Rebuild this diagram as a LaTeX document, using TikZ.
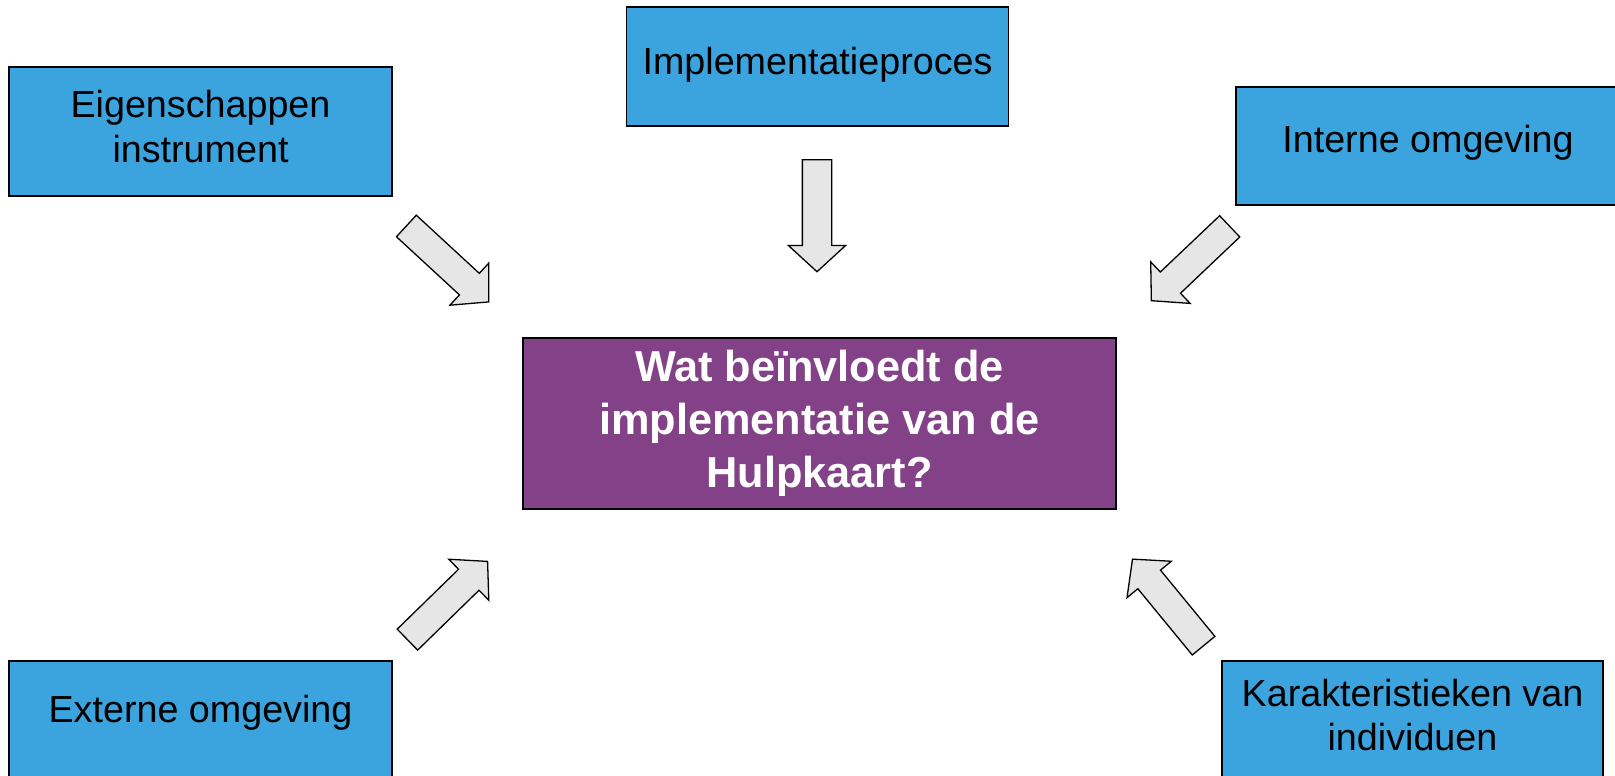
\documentclass[tikz,border=0pt]{standalone}
\usepackage{fontspec}
\setmainfont{Liberation Sans}
\usetikzlibrary{shapes.arrows}
\definecolor{boxblue}{HTML}{3BA3DD}
\definecolor{boxpurple}{HTML}{834187}
\definecolor{arrowgray}{HTML}{E6E6E6}
\tikzset{
  bluebox/.style={draw=black, line width=1.3pt, fill=boxblue, inner sep=0pt, align=center,
    font=\fontsize{37.7pt}{44.3pt}\selectfont, text=black},
  bluetext/.style={inner sep=0pt, align=center, font=\fontsize{37.7pt}{44.3pt}\selectfont, text=black},
  centerbox/.style={draw=black, line width=1.3pt, fill=boxpurple, inner sep=0pt, align=center,
    font=\fontsize{43.3pt}{53pt}\selectfont\bfseries, text=white},
  blockarrow/.style={single arrow, draw=black, line width=1.3pt, fill=arrowgray,
    minimum height=112pt, minimum width=56pt, inner xsep=0pt, inner ysep=14pt,
    single arrow head extend=14pt, single arrow tip angle=95, single arrow head indent=0pt}
}
\begin{document}
\begin{tikzpicture}[x=1pt,y=-1pt]
\useasboundingbox (0,0) rectangle (1615,776);
\clip (0,0) rectangle (1615,776);
% boxes
\node[bluebox, minimum width=383pt, minimum height=129pt] (eig) at (200.5,131.5) {};
\node[bluetext] (eigtxt) at (200.5,126.5) {Eigenschappen\\instrument};
\node[bluebox, minimum width=382pt, minimum height=119pt] (impl) at (817.5,66.5) {};
\node[bluetext] (impltxt) at (817.5,64.5) {Implementatieproces};
\node[bluebox, minimum width=390pt, minimum height=118pt] (int) at (1431,146) {};
\node[bluetext] (inttxt) at (1428,143) {Interne omgeving};
\node[centerbox, minimum width=593pt, minimum height=171pt] (wat) at (819.5,423.5) {Wat beïnvloedt de\\implementatie van de\\Hulpkaart?};
\node[bluebox, minimum width=383pt, minimum height=140pt] (ext) at (200.5,731) {};
\node[bluetext] (exttxt) at (200.5,713) {Externe omgeving};
\node[bluebox, minimum width=381pt, minimum height=140pt] (kar) at (1412.5,731) {};
\node[bluetext] (kartxt) at (1412.5,715) {Karakteristieken van\\individuen};
% block arrows
\node[blockarrow, rotate=-42.7] (a1) at (442.6,259.4) {};
\node[blockarrow, rotate=-90] (a2) at (817,209) {};
\node[blockarrow, rotate=-136.5, minimum height=108pt] (a3) at (1195.4,258.9) {};
\node[blockarrow, rotate=44.3] (a4) at (442.7,605.2) {};
\node[blockarrow, rotate=129.4] (a5) at (1172.3,607.6) {};
\end{tikzpicture}
\end{document}
